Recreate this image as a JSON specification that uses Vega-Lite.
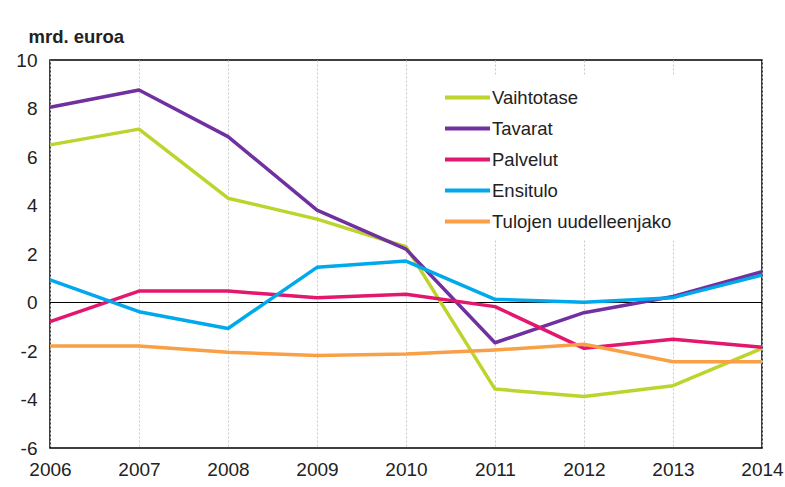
{
  "$schema": "https://vega.github.io/schema/vega-lite/v6.json",
  "width": 712,
  "height": 388,
  "autosize": {"type": "none"},
  "padding": {"left": 50, "top": 60, "right": 23, "bottom": 39},
  "background": "white",
  "config": {
    "font": "Liberation Sans",
    "view": {"stroke": "#000000", "strokeWidth": 1.5},
    "axis": {"labelFont": "Liberation Sans", "labelFontSize": 19, "labelColor": "#222222", "gridColor": "#c8c8c8", "gridDash": [2, 2], "gridWidth": 1, "domain": false, "ticks": false}
  },
  "data": {
    "values": [
      {"year": 2006, "series": "Vaihtotase", "value": 6.5},
      {"year": 2007, "series": "Vaihtotase", "value": 7.15},
      {"year": 2008, "series": "Vaihtotase", "value": 4.3},
      {"year": 2009, "series": "Vaihtotase", "value": 3.44},
      {"year": 2010, "series": "Vaihtotase", "value": 2.3},
      {"year": 2011, "series": "Vaihtotase", "value": -3.57},
      {"year": 2012, "series": "Vaihtotase", "value": -3.88},
      {"year": 2013, "series": "Vaihtotase", "value": -3.43},
      {"year": 2014, "series": "Vaihtotase", "value": -1.89},
      {"year": 2006, "series": "Tavarat", "value": 8.05},
      {"year": 2007, "series": "Tavarat", "value": 8.76},
      {"year": 2008, "series": "Tavarat", "value": 6.84},
      {"year": 2009, "series": "Tavarat", "value": 3.81},
      {"year": 2010, "series": "Tavarat", "value": 2.2},
      {"year": 2011, "series": "Tavarat", "value": -1.66},
      {"year": 2012, "series": "Tavarat", "value": -0.42},
      {"year": 2013, "series": "Tavarat", "value": 0.25},
      {"year": 2014, "series": "Tavarat", "value": 1.27},
      {"year": 2006, "series": "Palvelut", "value": -0.79},
      {"year": 2007, "series": "Palvelut", "value": 0.47},
      {"year": 2008, "series": "Palvelut", "value": 0.47},
      {"year": 2009, "series": "Palvelut", "value": 0.2},
      {"year": 2010, "series": "Palvelut", "value": 0.34},
      {"year": 2011, "series": "Palvelut", "value": -0.17},
      {"year": 2012, "series": "Palvelut", "value": -1.89},
      {"year": 2013, "series": "Palvelut", "value": -1.52},
      {"year": 2014, "series": "Palvelut", "value": -1.85},
      {"year": 2006, "series": "Ensitulo", "value": 0.93},
      {"year": 2007, "series": "Ensitulo", "value": -0.38},
      {"year": 2008, "series": "Ensitulo", "value": -1.07},
      {"year": 2009, "series": "Ensitulo", "value": 1.45},
      {"year": 2010, "series": "Ensitulo", "value": 1.71},
      {"year": 2011, "series": "Ensitulo", "value": 0.13},
      {"year": 2012, "series": "Ensitulo", "value": 0.01},
      {"year": 2013, "series": "Ensitulo", "value": 0.2},
      {"year": 2014, "series": "Ensitulo", "value": 1.13},
      {"year": 2006, "series": "Tulojen uudelleenjako", "value": -1.79},
      {"year": 2007, "series": "Tulojen uudelleenjako", "value": -1.79},
      {"year": 2008, "series": "Tulojen uudelleenjako", "value": -2.05},
      {"year": 2009, "series": "Tulojen uudelleenjako", "value": -2.19},
      {"year": 2010, "series": "Tulojen uudelleenjako", "value": -2.12},
      {"year": 2011, "series": "Tulojen uudelleenjako", "value": -1.96},
      {"year": 2012, "series": "Tulojen uudelleenjako", "value": -1.72},
      {"year": 2013, "series": "Tulojen uudelleenjako", "value": -2.44},
      {"year": 2014, "series": "Tulojen uudelleenjako", "value": -2.44}
    ]
  },
  "layer": [
    {
      "mark": {"type": "rule", "color": "#000000", "strokeWidth": 1.2},
      "encoding": {"y": {"datum": 0, "type": "quantitative", "scale": {"domain": [-6, 10]}}}
    },
    {
      "mark": {"type": "line", "strokeWidth": 3.5, "strokeJoin": "round", "strokeCap": "butt"},
      "encoding": {
        "x": {
          "field": "year", "type": "quantitative",
          "scale": {"domain": [2006, 2014], "nice": false, "zero": false},
          "axis": {"title": null, "values": [2006, 2007, 2008, 2009, 2010, 2011, 2012, 2013, 2014], "format": "d", "labelPadding": 12, "labelFlush": false, "labelOverlap": false}
        },
        "y": {
          "field": "value", "type": "quantitative",
          "scale": {"domain": [-6, 10], "nice": false, "zero": false},
          "axis": {"values": [-6, -4, -2, 0, 2, 4, 6, 8, 10], "labelExpr": "'' + datum.value", "labelPadding": 13, "title": "mrd. euroa", "titleAngle": 0, "titleAlign": "left", "titleBaseline": "alphabetic", "titleX": -22, "titleY": -18, "titleFont": "Liberation Sans", "titleFontSize": 18.5, "titleFontWeight": "bold", "titleColor": "#222222"}
        },
        "color": {
          "field": "series", "type": "nominal",
          "sort": ["Vaihtotase", "Tavarat", "Palvelut", "Ensitulo", "Tulojen uudelleenjako"],
          "scale": {"domain": ["Vaihtotase", "Tavarat", "Palvelut", "Ensitulo", "Tulojen uudelleenjako"], "range": ["#bcd42b", "#7030a0", "#e3176e", "#00a8ec", "#f9a046"]},
          "legend": {
            "title": null, "orient": "none", "legendX": 396, "legendY": 16,
            "padding": 8, "fillColor": "white",
            "symbolType": "M-2,0L2,0", "symbolSize": 506, "symbolStrokeWidth": 4,
            "labelFont": "Liberation Sans", "labelFontSize": 18.5, "labelColor": "#222222",
            "labelOffset": 11, "rowPadding": 8, "labelLimit": 400
          }
        }
      }
    }
  ]
}
